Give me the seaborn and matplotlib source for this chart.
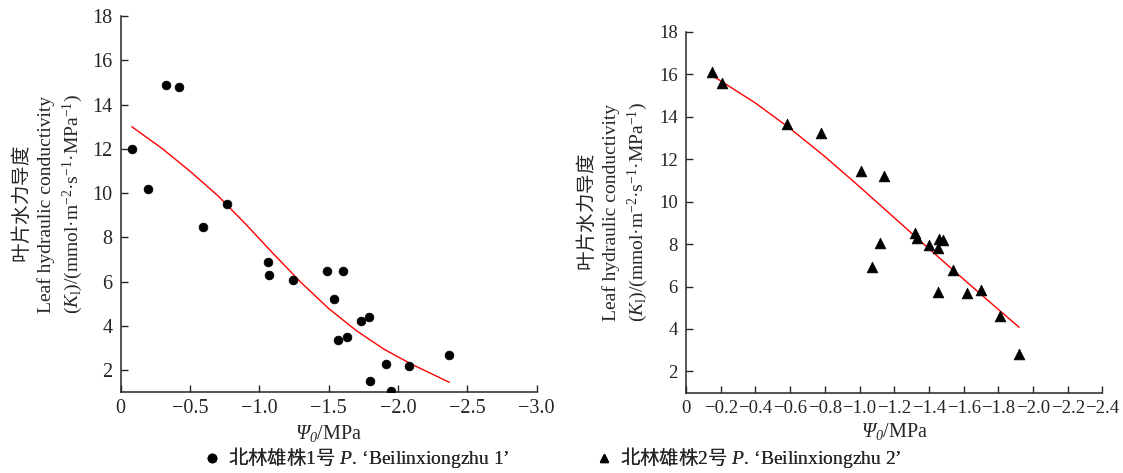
import matplotlib
matplotlib.use("Agg")
import matplotlib.pyplot as plt
import matplotlib.ticker as ticker
from matplotlib.lines import Line2D
import seaborn as sns

# Clone 1: leaf water potential (MPa) vs leaf hydraulic conductivity
psi_1 = [-0.08, -0.20, -0.33, -0.42, -0.59, -0.77, -1.06, -1.07, -1.24, -1.49, -1.60,
         -1.54, -1.73, -1.79, -1.57, -1.63, -1.91, -2.08, -2.37, -1.80, -1.95]
kl_1 = [12.0, 10.2, 14.9, 14.8, 8.45, 9.5, 6.9, 6.3, 6.1, 6.5, 6.5,
        5.2, 4.25, 4.4, 3.35, 3.5, 2.3, 2.2, 2.7, 1.5, 1.07]
fit_psi_1 = [-0.08, -0.3, -0.5, -0.7, -0.9, -1.1, -1.3, -1.5, -1.7, -1.9, -2.1, -2.37]
fit_kl_1 = [13.0, 12.01, 10.99, 9.89, 8.61, 7.27, 5.97, 4.79, 3.79, 2.95, 2.27, 1.46]

# Clone 2
psi_2 = [-0.15, -0.21, -0.58, -0.78, -1.01, -1.14, -1.12, -1.07, -1.32, -1.33,
         -1.40, -1.46, -1.48, -1.45, -1.54, -1.45, -1.62, -1.70, -1.81, -1.92]
kl_2 = [16.1, 15.6, 13.65, 13.25, 11.45, 11.2, 8.05, 6.9, 8.5, 8.3,
        7.95, 8.25, 8.2, 7.8, 6.8, 5.75, 5.7, 5.85, 4.6, 2.8]
fit_psi_2 = [-0.15, -0.4, -0.6, -0.8, -1.0, -1.2, -1.4, -1.6, -1.8, -1.92]
fit_kl_2 = [15.94, 14.64, 13.44, 12.12, 10.70, 9.24, 7.78, 6.34, 4.92, 4.08]

legend_labels = [r"$\mathsf{北林雄株}$1$\mathsf{号}$ $\mathit{P}$. ‘Beilinxiongzhu 1’",
                 r"$\mathsf{北林雄株}$2$\mathsf{号}$ $\mathit{P}$. ‘Beilinxiongzhu 2’"]
ylabel = ("$\\mathsf{叶片水力导度}$\nLeaf hydraulic conductivity\n"
          "($\\mathit{K}_{\\rm l}$)/(mmol·m$^{-2}$·s$^{-1}$·MPa$^{-1}$)")
# italic capital psi: the 'bf' slot is pointed at the italic serif face
xlabel = r"$\mathbf{Ψ}_{\mathbf{0}}$/MPa"

sns.set_style("ticks")
plt.rcParams['font.family'] = ['Liberation Serif', 'Noto Sans CJK SC', 'DejaVu Sans']
plt.rcParams['mathtext.fontset'] = 'custom'
plt.rcParams['mathtext.rm'] = 'Liberation Serif'
plt.rcParams['mathtext.it'] = 'Liberation Serif:italic'
plt.rcParams['mathtext.bf'] = 'Liberation Serif:italic'
plt.rcParams['mathtext.sf'] = 'Noto Sans CJK SC:weight=light'
plt.rcParams['axes.unicode_minus'] = True


def fmt(v, pos):
    if abs(v) < 1e-9:
        return "0"
    return f"{v:.1f}".replace("-", "\u2212")


fig = plt.figure(figsize=(11.23, 4.73), dpi=100)
ax1 = fig.add_axes([0.1075, 0.1702, 0.3704, 0.796])
ax2 = fig.add_axes([0.6109, 0.1698, 0.3708, 0.7632])

panels = [
    (ax1, psi_1, kl_1, fit_psi_1, fit_kl_1, "o", 40, -3.0, 0.5, 14.5),
    (ax2, psi_2, kl_2, fit_psi_2, fit_kl_2, "^", 60, -2.4, 0.2, 13.5),
]
for ax, px, py, fx, fy, mk, ms, xmin, step, fs in panels:
    sns.lineplot(x=fx, y=fy, ax=ax, color="red", lw=1.0, sort=False, estimator=None)
    sns.scatterplot(x=px, y=py, ax=ax, marker=mk, s=ms, color="black",
                    edgecolor="black", linewidth=0.5, zorder=3)
    ax.set_xlim(0, xmin)
    ax.set_ylim(1, 18)
    ax.xaxis.set_major_locator(ticker.MultipleLocator(step))
    ax.xaxis.set_major_formatter(ticker.FuncFormatter(fmt))
    ax.set_yticks(range(2, 19, 2))
    sns.despine(ax=ax)
    for s in ("left", "bottom"):
        ax.spines[s].set_linewidth(1.1)
    ax.tick_params(direction="in", length=5, width=1.0, labelsize=fs)
    ax.tick_params(axis="x", pad=5)
    ax.tick_params(axis="y", pad=6)
    ax.set_xlabel(xlabel, fontsize=14.5, labelpad=3)
    ax.set_ylabel(ylabel, fontsize=14, linespacing=1.35)
    ax.yaxis.set_label_coords(-0.086, 0.5)

# one legend per clone, placed under each panel like the original caption
for mk, lab, x0 in [("o", legend_labels[0], 0.1817), ("^", legend_labels[1], 0.5307)]:
    h = Line2D([], [], marker=mk, ls="none", color="black", markersize=6)
    leg = fig.legend([h], [lab], loc="center left", bbox_to_anchor=(x0, 0.032),
                     frameon=False, fontsize=14, borderpad=0, borderaxespad=0,
                     handlelength=0.8, handletextpad=0.45)
    fig.add_artist(leg)

fig.savefig("out.png", dpi=100)
